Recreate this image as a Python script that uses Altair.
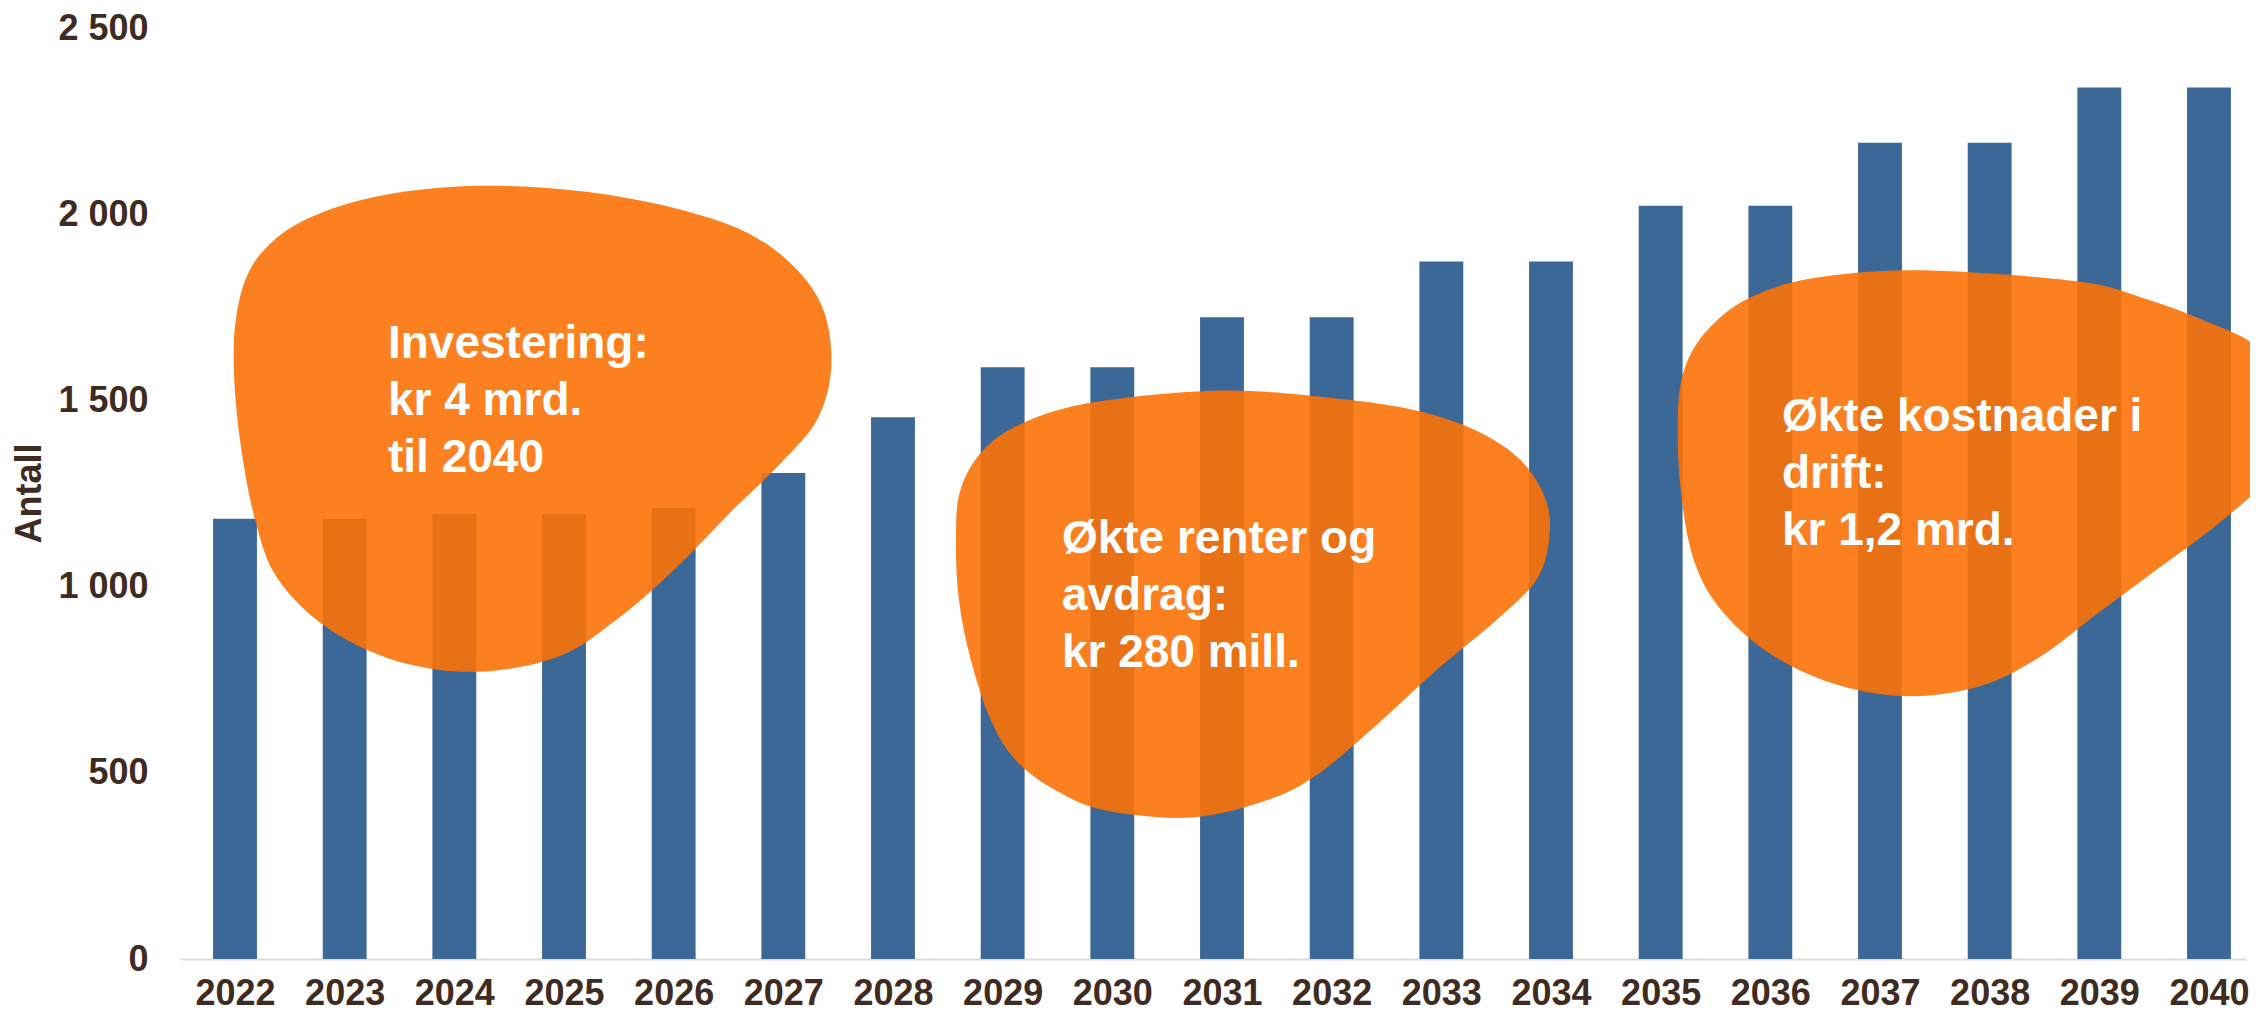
import altair as alt
import pandas as pd

# ---- data ----
years = list(range(2022, 2041))
antall = [1182, 1182, 1195, 1195, 1211, 1305, 1455, 1589, 1589, 1723, 1723,
          1873, 1873, 2023, 2023, 2192, 2192, 2340, 2340]
y_ticks = [0, 500, 1000, 1500, 2000, 2500]

# annotation bubbles: anchor in data units (year, value)
blob_names = ["invest", "renter", "drift"]
blob_year = [2024.7, 2031.0, 2037.3]
blob_value = [1400, 960, 1280]

note_year = [2023.395, 2029.54, 2036.106]
note_value = [1615, 1090, 1417]
note_text = ["Investering:\nkr 4 mrd.\ntil 2040",
             "Økte renter og\navdrag:\nkr 280 mill.",
             "Økte kostnader i\ndrift:\nkr 1,2 mrd."]

# ---- bubble outlines (style: symbol shapes, relative to anchor) ----
outline_invest = [(-38, -252), (55, -246), (142, -230), (214, -206), (264, -170), (293, -126),
                  (300, -69), (286, -18), (250, 25), (199, 75), (142, 133), (84, 183),
                  (27, 219), (-53, 234), (-132, 224), (-204, 190), (-254, 140), (-276, 82),
                  (-290, 10), (-297, -62), (-295, -120), (-280, -170), (-245, -207),
                  (-190, -232), (-120, -247)]
outline_renter = [(-1, -211), (114, -203), (194, -191), (254, -171), (299, -141), (324, -101),
                  (327, -61), (314, -21), (274, 19), (214, 69), (154, 124), (94, 174),
                  (44, 199), (-31, 216), (-116, 209), (-166, 189), (-206, 159), (-231, 119),
                  (-251, 59), (-263, -1), (-266, -61), (-262, -110), (-240, -150),
                  (-200, -178), (-130, -199)]
outline_drift = [(5, -212), (164, -201), (234, -183), (293, -161), (343, -136), (373, -91),
                 (378, -41), (353, -1), (301, 45), (243, 88), (185, 131), (128, 174),
                 (70, 203), (-2, 214), (-74, 203), (-139, 174), (-189, 131), (-218, 81),
                 (-232, 9), (-235, -71), (-226, -120), (-200, -158), (-160, -186),
                 (-100, -204)]


def smooth_path(pts):
    n = len(pts)
    d = "M%.1f,%.1f" % pts[0]
    for i in range(n):
        p0 = pts[i - 1]
        p1 = pts[i]
        p2 = pts[(i + 1) % n]
        p3 = pts[(i + 2) % n]
        c1 = (p1[0] + (p2[0] - p0[0]) / 6, p1[1] + (p2[1] - p0[1]) / 6)
        c2 = (p2[0] - (p3[0] - p1[0]) / 6, p2[1] - (p3[1] - p1[1]) / 6)
        d += " C%.1f,%.1f %.1f,%.1f %.1f,%.1f" % (c1[0], c1[1], c2[0], c2[1], p2[0], p2[1])
    return d + " Z"


blob_paths = [smooth_path(outline_invest), smooth_path(outline_renter), smooth_path(outline_drift)]

# ---- style ----
FONT = "Liberation Sans"
LABEL_COLOR = "#3F2B22"
BAR_COLOR = "#3B6896"
BLOB_COLOR = "#FC7207"

bars_df = pd.DataFrame({"year": years, "antall": antall})
blob_df = pd.DataFrame({"name": blob_names, "year": blob_year, "value": blob_value})
note_df = pd.DataFrame({"name": blob_names, "year": note_year, "value": note_value, "text": note_text})

x_scale = alt.Scale(domain=[2021.4985, 2040.3375], nice=False, zero=False)
y_scale = alt.Scale(domain=[0, 2500], nice=False)

bars = alt.Chart(bars_df).transform_calculate(
    x0="datum.year - 0.2", x1="datum.year + 0.2"
).mark_bar(color=BAR_COLOR).encode(
    x=alt.X("x0:Q", scale=x_scale,
            axis=alt.Axis(values=years, format="d", title=None, ticks=False, grid=False,
                          labelFont=FONT, labelFontSize=36, labelFontWeight="bold",
                          labelColor=LABEL_COLOR, labelPadding=17, labelFlush=False,
                          labelOverlap=False, domainColor="#E6DAD3", domainWidth=2)),
    x2="x1:Q",
    y=alt.Y("antall:Q", scale=y_scale,
            axis=alt.Axis(values=y_ticks, title="Antall", ticks=False, grid=False, domain=False,
                          labelExpr="replace(format(datum.value, ',d'), ',', ' ')",
                          labelFont=FONT, labelFontSize=36, labelFontWeight="bold",
                          labelColor=LABEL_COLOR, labelPadding=32,
                          titleFont=FONT, titleFontSize=36, titleFontWeight="bold",
                          titleColor=LABEL_COLOR, titleAngle=270, titleAlign="center",
                          titleBaseline="middle", titleX=-151, titleY=465)),
    y2=alt.datum(0),
)

blob_layers = []
for name, path in zip(blob_names, blob_paths):
    blob_layers.append(
        alt.Chart(blob_df).transform_filter(alt.datum.name == name).mark_point(
            shape=path, filled=True, size=4, color=BLOB_COLOR, opacity=0.9, strokeWidth=0
        ).encode(
            x=alt.X("year:Q", scale=x_scale),
            y=alt.Y("value:Q", scale=y_scale),
        )
    )

notes = alt.Chart(note_df).mark_text(
    align="left", baseline="alphabetic", font=FONT, fontSize=46, fontWeight="bold",
    color="white", lineBreak="\n", lineHeight=57
).encode(
    x=alt.X("year:Q", scale=x_scale),
    y=alt.Y("value:Q", scale=y_scale),
    text="text:N",
)

chart = alt.layer(bars, *blob_layers, notes).properties(
    width=2066, height=931,
    autosize=alt.AutoSizeParams(type="none"),
    padding={"left": 172, "top": 20, "right": 4, "bottom": 52},
).configure_view(stroke=None)

chart.save("out.html", embed_options={"renderer": "svg", "actions": False})
